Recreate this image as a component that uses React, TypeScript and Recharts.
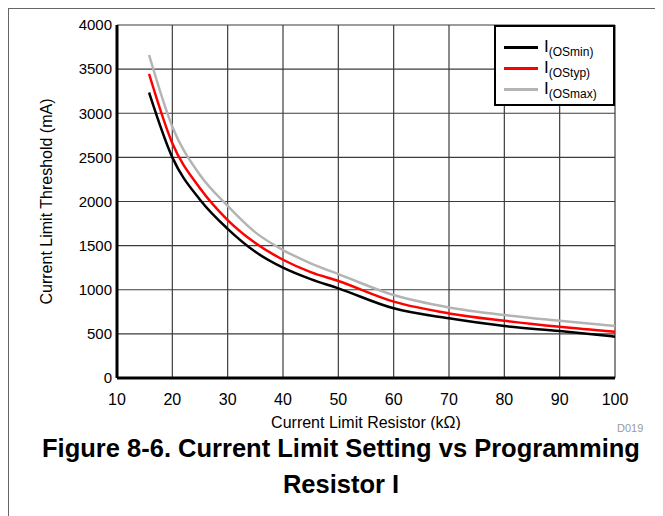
import React from 'react';
import { LineChart, Line, XAxis, YAxis, CartesianGrid, Legend } from 'recharts';

// resistor values (kOhm) and current limit thresholds (mA)
const resistorK = [15.8, 20, 25, 30, 35, 40, 45, 50, 60, 70, 80, 90, 100];
const osMin = [3235, 2500, 2020, 1690, 1430, 1250, 1120, 1016, 790, 676, 589, 532, 468];
const osTyp = [3445, 2660, 2150, 1790, 1530, 1340, 1200, 1099, 865, 732, 649, 581, 525];
const osMax = [3660, 2848, 2300, 1950, 1650, 1450, 1300, 1178, 940, 800, 714, 649, 589];

const xTicks = [10, 20, 30, 40, 50, 60, 70, 80, 90, 100];
const yTicks = [0, 500, 1000, 1500, 2000, 2500, 3000, 3500, 4000];

const seriesNames = ['I(OSmin)', 'I(OStyp)', 'I(OSmax)'];
const seriesKeys = ['osMin', 'osTyp', 'osMax'];
const seriesColors = ['#000000', '#ff0000', '#b4b4b4'];

const data = resistorK.map((r, i) => ({
  r,
  osMin: osMin[i],
  osTyp: osTyp[i],
  osMax: osMax[i],
}));

const FONT = '"Liberation Sans", Arial, sans-serif';
const frame = { stroke: '#000', strokeWidth: 3 };

const YLabel = (props: any) => {
  const vb = props.viewBox || {};
  const cx = vb.x + 37;
  const cy = vb.y + vb.height / 2;
  return (
    <text
      x={cx}
      y={cy}
      transform={`rotate(-90, ${cx}, ${cy})`}
      textAnchor="middle"
      dominantBaseline="central"
      fontSize={16}
      fontFamily={FONT}
      fill="#000"
    >
      Current Limit Threshold (mA)
    </text>
  );
};

const XLabel = (props: any) => {
  const vb = props.viewBox || {};
  return (
    <text
      x={vb.x + vb.width / 2}
      y={vb.y + 44}
      textAnchor="middle"
      dominantBaseline="central"
      fontSize={16}
      fontFamily={FONT}
      fill="#000"
    >
      Current Limit Resistor (kΩ)
    </text>
  );
};

// legend drawn in series order (recharts would sort it by name)
const LegendBox = () => (
  <div
    style={{
      width: 121,
      height: 81,
      boxSizing: 'border-box',
      border: '2px solid #000',
      background: '#fff',
      fontFamily: FONT,
      paddingTop: 10,
    }}
  >
    {seriesNames.map((name, i) => (
      <div key={name} style={{ display: 'flex', alignItems: 'center', height: 21 }}>
        <div style={{ width: 34, height: 3, background: seriesColors[i], marginLeft: 8, marginRight: 6 }} />
        <span style={{ fontSize: 17, color: '#000', lineHeight: '17px' }}>
          {name.slice(0, 1)}
          <span style={{ fontSize: 12, position: 'relative', top: 4 }}>{name.slice(1)}</span>
        </span>
      </div>
    ))}
  </div>
);

const titleLine = {
  position: 'absolute' as const,
  left: 0,
  width: 664,
  textAlign: 'center' as const,
  fontWeight: 'bold' as const,
  fontSize: 25.5,
  lineHeight: '25px',
  color: '#000',
};

const titleSpan = { display: 'inline-block', lineHeight: '25px', height: 25 };

export default function App() {
  return (
    <div
      style={{
        position: 'relative',
        width: 648,
        height: 510,
        border: '1px solid #666',
        background: '#fff',
        fontFamily: FONT,
      }}
    >
      <LineChart width={640} height={421} data={data} margin={{ top: 16, right: 34, left: 0, bottom: 0 }}>
        <CartesianGrid stroke="#3c3c3c" strokeWidth={1.2} />
        <XAxis
          dataKey="r"
          type="number"
          domain={[10, 100]}
          ticks={xTicks}
          tickSize={0}
          tickMargin={16}
          height={52}
          axisLine={frame}
          tick={{ fontSize: 16, fill: '#000', fontFamily: FONT }}
          label={<XLabel />}
        />
        <XAxis
          xAxisId="top"
          dataKey="r"
          type="number"
          orientation="top"
          domain={[10, 100]}
          ticks={xTicks}
          tick={false}
          tickLine={false}
          height={0}
          axisLine={frame}
        />
        <YAxis
          type="number"
          domain={[0, 4000]}
          ticks={yTicks}
          tickSize={0}
          tickMargin={5}
          width={108}
          axisLine={frame}
          tick={{ fontSize: 15, fill: '#000', fontFamily: FONT }}
          label={<YLabel />}
        />
        <YAxis
          yAxisId="right"
          type="number"
          orientation="right"
          domain={[0, 4000]}
          ticks={yTicks}
          tick={false}
          tickLine={false}
          width={0}
          axisLine={frame}
        />
        {seriesKeys.map((k, i) => (
          <Line
            key={k}
            type="monotone"
            dataKey={k}
            name={seriesNames[i]}
            stroke={seriesColors[i]}
            strokeWidth={2.5}
            dot={false}
            isAnimationActive={false}
          />
        ))}
        <Legend
          layout="vertical"
          align="center"
          verticalAlign="middle"
          content={<LegendBox />}
          wrapperStyle={{ left: 485, top: 16, width: 121, height: 81 }}
        />
      </LineChart>
      <div style={{ position: 'absolute', left: 608, top: 414, fontSize: 11, lineHeight: '11px', color: '#9a9a9a' }}>
        D019
      </div>
      <div style={{ ...titleLine, top: 427 }}>
        <span style={titleSpan}>Figure 8-6. Current Limit Setting vs Programming</span>
      </div>
      <div style={{ ...titleLine, top: 463 }}>
        <span style={titleSpan}>Resistor I</span>
      </div>
    </div>
  );
}
